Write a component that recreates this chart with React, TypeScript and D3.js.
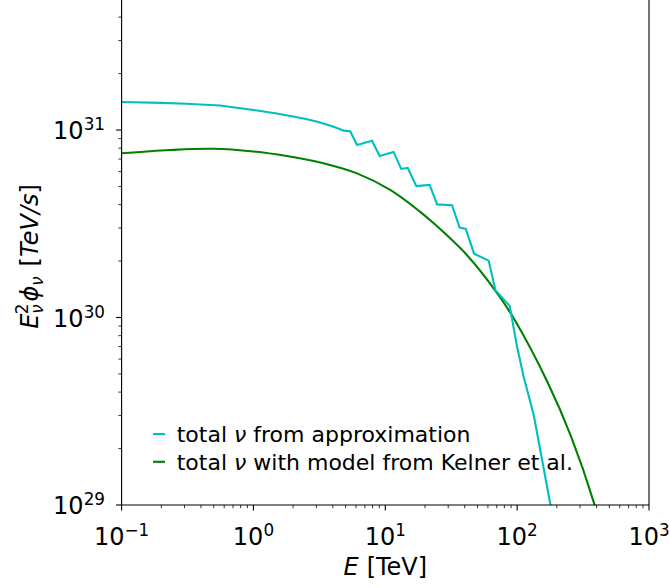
import React from "react";
import * as d3 from "d3";

const cyanE = [0.1, 0.2, 0.312, 0.558, 1.0, 1.5, 2.0, 2.5, 3.0, 3.5, 4.0, 4.5, 4.82, 5.42, 6.1, 7.93, 9.06, 11.56, 13.2, 14.8, 17.2, 21.7, 24.7, 32.1, 36.6, 40.8, 47.1, 60.8, 68.4, 87.9, 99.6, 112, 133.6, 179, 200];
const cyanF = [1.41e31, 1.395e31, 1.38e31, 1.35e31, 1.279e31, 1.225e31, 1.18e31, 1.145e31, 1.11e31, 1.076e31, 1.044e31, 1.012e31, 9.92e30, 9.84e30, 8.32e30, 8.77e30, 7.26e30, 7.64e30, 6.2e30, 6.27e30, 5.02e30, 5.1e30, 4.01e30, 3.97e30, 3.02e30, 2.97e30, 2.19e30, 2.01e30, 1.4e30, 1.15e30, 7.05e29, 4.83e29, 3.02e29, 1.0e29, 6.6e28];

const greenE = [0.1, 0.233, 0.497, 1, 1.79, 3.21, 6.1, 10.9, 18.4, 23.3, 41.7, 70.5, 94.2, 169, 254, 382, 420];
const greenF = [7.51e30, 7.82e30, 7.94e30, 7.68e30, 7.26e30, 6.71e30, 5.87e30, 4.79e30, 3.66e30, 3.18e30, 2.15e30, 1.35e30, 9.9e29, 4.56e29, 2.36e29, 1.03e29, 8e28];

const xMajor = [0.1, 1, 10, 100, 1000];
const xMajorExp = ["\u22121", "0", "1", "2", "3"];
const yMajor = [1e29, 1e30, 1e31];
const yMajorExp = ["29", "30", "31"];

const legendLabels = ["from approximation", "with model from Kelner et al."];

const CYAN = "#00bfbf";
const GREEN = "#008000";
const FONT = "DejaVu Sans";

export default function App() {
  const left = 121.6, right = 649, bottom = 505;
  const x = d3.scaleLog().domain([0.1, 1000]).range([left, right]);
  const y = d3.scaleLog().domain([1e29, 5e31]).range([bottom, bottom - 187.5 * Math.log10(500)]);
  const top = y(5e31);

  const xMinor: number[] = [];
  for (let d = -1; d < 3; d++) for (let k = 2; k <= 9; k++) xMinor.push(k * Math.pow(10, d));
  const yMinor: number[] = [];
  for (let d = 29; d <= 31; d++) for (let k = 2; k <= 9; k++) {
    const v = k * Math.pow(10, d);
    if (v <= 5e31) yMinor.push(v);
  }

  const line = d3.line<[number, number]>().x((d) => x(d[0])).y((d) => y(d[1]));
  const smooth = d3.line<[number, number]>().x((d) => x(d[0])).y((d) => y(d[1])).curve(d3.curveCatmullRom.alpha(0.5));
  const cyanPts = cyanE.map((e, i) => [e, cyanF[i]] as [number, number]);
  const greenPts = greenE.map((e, i) => [e, greenF[i]] as [number, number]);

  const legendColors = [CYAN, GREEN];
  const TF = 24, SF = 16.8;

  return (
    <svg width={670} height={588} style={{ position: "absolute", left: 0, top: 0, background: "#fff" }} fontFamily={FONT}>
      <defs>
        <clipPath id="plotclip">
          <rect x={left} y={top} width={right - left} height={bottom - top} />
        </clipPath>
      </defs>
      <g clipPath="url(#plotclip)">
        <path d={smooth(greenPts) || ""} fill="none" stroke={GREEN} strokeWidth={2.1} />
        <path d={line(cyanPts) || ""} fill="none" stroke={CYAN} strokeWidth={2.1} strokeLinejoin="miter" />
      </g>
      {/* spines */}
      <line x1={left} x2={left} y1={top} y2={bottom} stroke="#000" strokeWidth={1.1} />
      <line x1={right} x2={right} y1={top} y2={bottom} stroke="#000" strokeWidth={1.1} />
      <line x1={left} x2={right} y1={bottom} y2={bottom} stroke="#000" strokeWidth={1.1} />
      <line x1={left} x2={right} y1={top} y2={top} stroke="#000" strokeWidth={1.1} />
      {/* x ticks */}
      {xMajor.map((v, i) => (
        <g key={"xm" + i}>
          <line x1={x(v)} x2={x(v)} y1={bottom} y2={bottom + 5.5} stroke="#000" strokeWidth={1.1} />
          <text x={x(v)} y={545} textAnchor="middle" fontSize={TF} fill="#000">
            10<tspan fontSize={SF} dy={-9}>{xMajorExp[i]}</tspan>
          </text>
        </g>
      ))}
      {xMinor.map((v, i) => (
        <line key={"xn" + i} x1={x(v)} x2={x(v)} y1={bottom} y2={bottom + 3.2} stroke="#000" strokeWidth={0.8} />
      ))}
      {/* y ticks */}
      {yMajor.map((v, i) => (
        <g key={"ym" + i}>
          <line x1={left - 5.5} x2={left} y1={y(v)} y2={y(v)} stroke="#000" strokeWidth={1.1} />
          <text x={105} y={y(v) + 9.3} textAnchor="end" fontSize={TF} fill="#000">
            10<tspan fontSize={SF} dy={-9.3}>{yMajorExp[i]}</tspan>
          </text>
        </g>
      ))}
      {yMinor.map((v, i) => (
        <line key={"yn" + i} x1={left - 3.2} x2={left} y1={y(v)} y2={y(v)} stroke="#000" strokeWidth={0.8} />
      ))}
      {/* x label */}
      <text x={(left + right) / 2} y={575} textAnchor="middle" fontSize={TF} fill="#000">
        <tspan fontStyle="italic">E</tspan>
        <tspan dx={8}>[TeV]</tspan>
      </text>
      {/* y label */}
      <text transform="translate(38,256.5) rotate(-90)" textAnchor="middle" fontSize={TF} fill="#000">
        <tspan fontStyle="italic">E</tspan>
        <tspan fontSize={SF} fontStyle="italic" dy={5}>ν</tspan>
        <tspan fontSize={SF} dx={-10} dy={-15}>2</tspan>
        <tspan fontStyle="italic" dy={10} dx={2}>ϕ</tspan>
        <tspan fontSize={SF} fontStyle="italic" dy={5}>ν</tspan>
        <tspan dy={-5} dx={10}>[</tspan>
        <tspan fontStyle="italic">TeV/s</tspan>
        <tspan>]</tspan>
      </text>
      {/* legend */}
      {legendLabels.map((lab, i) => (
        <g key={"lg" + i}>
          <line x1={153} x2={165} y1={434 + i * 27.8} y2={434 + i * 27.8} stroke={legendColors[i]} strokeWidth={2.1} />
          <text x={176.7} y={441.7 + i * 27.8} fontSize={22} fill="#000">
            total <tspan fontStyle="italic">ν</tspan> {lab}
          </text>
        </g>
      ))}
    </svg>
  );
}
